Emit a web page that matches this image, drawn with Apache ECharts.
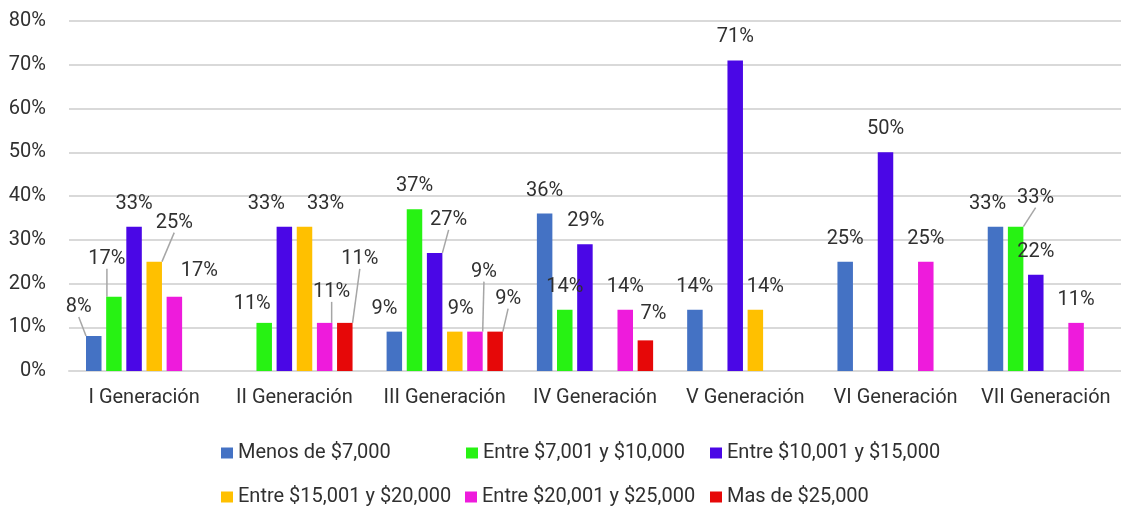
<!DOCTYPE html>
<html>
<head>
<meta charset="utf-8">
<script src="https://cdn.jsdelivr.net/npm/echarts@6/dist/echarts.min.js"></script>
<style>
html,body{margin:0;padding:0;background:#fff;}
#chart{width:1121px;height:512px;}
</style>
</head>
<body>
<div id="chart"></div>
<script>
// ---- data ----
const categories = ['I Generación', 'II Generación', 'III Generación', 'IV Generación', 'V Generación', 'VI Generación', 'VII Generación'];
const seriesNames = ['Menos de $7,000', 'Entre $7,001 y $10,000', 'Entre $10,001 y $15,000', 'Entre $15,001 y $20,000', 'Entre $20,001 y $25,000', 'Mas de $25,000'];
const menos7000   = [8, null, 9, 36, 14, 25, 33];
const entre7a10   = [17, 11, 37, 14, null, null, 33];
const entre10a15  = [33, 33, 27, 29, 71, 50, 22];
const entre15a20  = [25, 33, 9, null, 14, null, null];
const entre20a25  = [17, 11, 9, 14, null, 25, 11];
const mas25000    = [null, 11, 9, 7, null, null, null];
const yTicks = [0, 10, 20, 30, 40, 50, 60, 70, 80];

// ---- styling / layout (not data) ----
const colors = ['#4472C4', '#27F213', '#4A07E6', '#FFC000', '#EE1BDC', '#E60808'];
const FONT = "Roboto, 'Liberation Sans', sans-serif";
const FS = 20;
const TXT = '#303030';
// manual label moves [series-category] -> [dx, dy, showLeaderLine]
const labelMoves = {
  '0-0': [-15, -6, true], '0-2': [-10, 0, false], '0-6': [-8, 0, false],
  '1-0': [-7, -15, true], '1-1': [-12, 4, false], '1-6': [20, -6, true],
  '2-1': [-18, 0, false], '2-2': [14, -10, true], '2-3': [1, 0, false],
  '3-0': [20, -16, true], '3-1': [21, 0, false], '3-2': [6, 0, false], '3-4': [10, 0, false],
  '4-0': [25, -3, false], '4-1': [7, -8, true], '4-2': [9, -37, true],
  '5-1': [15, -41, true], '5-2': [13, -10, true], '5-3': [8, -3, false]
};
const legendPos = [[221, 443], [466, 443], [710, 443], [221, 487], [465, 487], [710, 487]];

const allValues = [menos7000, entre7a10, entre10a15, entre15a20, entre20a25, mas25000];

const series = allValues.map((vals, si) => ({
  name: seriesNames[si],
  type: 'bar',
  barWidth: 15.5,
  barGap: '30%',
  itemStyle: { color: colors[si] },
  label: {
    show: true, position: 'top', distance: 13,
    formatter: '{c}%', color: TXT, fontFamily: FONT, fontSize: FS
  },
  labelLine: { show: false, lineStyle: { color: '#A6A6A6', width: 1.5 } },
  labelLayout: function (p) {
    const m = labelMoves[p.seriesIndex + '-' + p.dataIndex];
    return m ? { dx: m[0], dy: m[1] } : {};
  },
  data: vals.map((v, ci) => {
    const m = labelMoves[si + '-' + ci];
    if (m && m[2]) return { value: v, labelLine: { show: true, lineStyle: { color: '#A6A6A6', width: 1.5 } } };
    return v;
  })
}));

const legends = seriesNames.map((n, i) => ({
  data: [n], left: legendPos[i][0], top: legendPos[i][1], padding: 0,
  itemWidth: 12, itemHeight: 11, icon: 'rect',
  textStyle: { color: TXT, fontFamily: FONT, fontSize: FS }
}));

const chart = echarts.init(document.getElementById('chart'), null, { renderer: 'canvas' });
chart.setOption({
  animation: false,
  color: colors,
  grid: { left: 69, top: 21, width: 1059, height: 350, containLabel: false },
  legend: legends,
  xAxis: {
    type: 'category', data: categories,
    axisLine: { lineStyle: { color: '#D9D9D9', width: 2 } },
    axisTick: { show: false },
    axisLabel: { color: TXT, fontFamily: FONT, fontSize: FS, margin: 17, interval: 0 }
  },
  yAxis: {
    type: 'value', min: yTicks[0], max: yTicks[yTicks.length - 1], interval: yTicks[1] - yTicks[0],
    axisLine: { show: false }, axisTick: { show: false },
    splitLine: { lineStyle: { color: '#D9D9D9', width: 2 } },
    axisLabel: { color: TXT, fontFamily: FONT, fontSize: FS, margin: 23, formatter: '{value}%' }
  },
  series: series
});
</script>
</body>
</html>
